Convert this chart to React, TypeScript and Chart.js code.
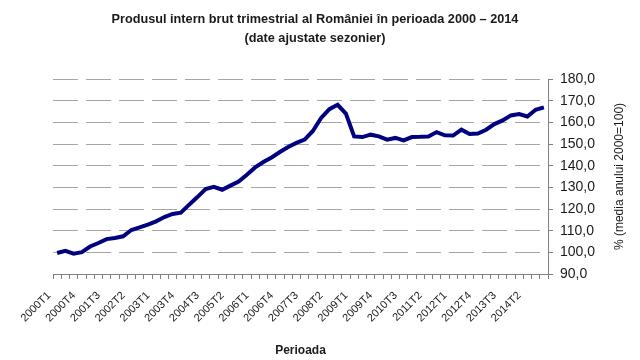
import React, { useEffect, useRef } from "react";
import { Chart, registerables } from "chart.js";

Chart.register(...registerables);

const TITLE_LINES = [
  "Produsul intern brut trimestrial al României în perioada 2000 – 2014",
  "(date ajustate sezonier)",
];
const X_TITLE = "Perioada";
const Y_TITLE = "% (media anului 2000=100)";

const QUARTERS = [
  "2000T1","2000T2","2000T3","2000T4",
  "2001T1","2001T2","2001T3","2001T4",
  "2002T1","2002T2","2002T3","2002T4",
  "2003T1","2003T2","2003T3","2003T4",
  "2004T1","2004T2","2004T3","2004T4",
  "2005T1","2005T2","2005T3","2005T4",
  "2006T1","2006T2","2006T3","2006T4",
  "2007T1","2007T2","2007T3","2007T4",
  "2008T1","2008T2","2008T3","2008T4",
  "2009T1","2009T2","2009T3","2009T4",
  "2010T1","2010T2","2010T3","2010T4",
  "2011T1","2011T2","2011T3","2011T4",
  "2012T1","2012T2","2012T3","2012T4",
  "2013T1","2013T2","2013T3","2013T4",
  "2014T1","2014T2","2014T3","2014T4",
];

const GDP_INDEX = [
  99.7, 100.7, 99.4, 100.1,
  102.7, 104.3, 106.1, 106.6,
  107.4, 110.3, 111.5, 112.8,
  114.3, 116.3, 117.7, 118.3,
  122.0, 125.5, 129.2, 130.2,
  128.9, 130.8, 132.7, 135.8,
  139.2, 141.7, 143.8, 146.3,
  148.6, 150.5, 152.0, 156.0,
  162.0, 166.1, 168.1, 164.0,
  153.5, 153.2, 154.3, 153.5,
  152.0, 152.8, 151.7, 153.2,
  153.3, 153.5, 155.5, 154.0,
  153.9, 156.6, 154.6, 154.8,
  156.6, 159.2, 160.9, 163.2,
  163.8, 162.7, 165.8, 166.9,
];

const Y_MIN = 90;
const Y_MAX = 180;
const Y_STEP = 10;
const LABEL_EVERY = 3;

const FONT = "'Liberation Sans', Arial, sans-serif";
const TEXT = "#1a1a1a";

const textPlugin = {
  id: "customTexts",
  afterDraw(chart: any) {
    const { ctx, chartArea } = chart;
    ctx.save();
    ctx.fillStyle = TEXT;
    ctx.textAlign = "center";
    ctx.textBaseline = "middle";
    ctx.font = `bold 12.7px ${FONT}`;
    ctx.fillText(TITLE_LINES[0], 315, 19);
    ctx.fillText(TITLE_LINES[1], 315, 38);
    ctx.font = `12px ${FONT}`;
    ctx.translate(620, (chartArea.top + chartArea.bottom) / 2);
    ctx.rotate(-Math.PI / 2);
    ctx.fillText(Y_TITLE, 0, 0);
    ctx.restore();
  },
};

export default function App() {
  const ref = useRef<HTMLCanvasElement>(null);
  useEffect(() => {
    const chart = new Chart(ref.current!, {
      type: "line",
      data: {
        labels: QUARTERS,
        datasets: [
          {
            data: GDP_INDEX,
            borderColor: "#000080",
            borderWidth: 4,
            pointRadius: 0,
            tension: 0,
            fill: false,
          },
        ],
      },
      options: {
        responsive: false,
        animation: false,
        layout: { padding: { left: 53, top: 79, right: 0, bottom: 0 } },
        plugins: {
          legend: { display: false },
          title: { display: false },
          tooltip: { enabled: false },
        },
        scales: {
          x: {
            type: "category",
            offset: true,
            grid: {
              display: true,
              drawOnChartArea: false,
              drawTicks: true,
              tickLength: 5,
              color: "#808080",
              offset: true,
            },
            border: { display: true, color: "#808080", width: 1 },
            ticks: {
              autoSkip: false,
              minRotation: 45,
              maxRotation: 45,
              padding: 10,
              labelOffset: -8,
              color: TEXT,
              font: { family: FONT, size: 11 },
              callback: (_v: any, i: number) => (i % LABEL_EVERY === 0 ? QUARTERS[i] : ""),
            },
            title: {
              display: true,
              text: X_TITLE,
              color: TEXT,
              font: { family: FONT, size: 12, weight: "bold" },
              padding: { top: 0, bottom: 2 },
            },
            afterFit: (s: any) => {
              s.height = 86;
            },
          },
          y: {
            position: "right",
            min: Y_MIN,
            max: Y_MAX,
            grid: {
              color: "#a6a6a6",
              lineWidth: 1,
              tickColor: "#808080",
              tickLength: 5,
              drawTicks: true,
            },
            border: { display: true, color: "#808080", width: 1, dash: [25, 8] },
            ticks: {
              stepSize: Y_STEP,
              padding: 7,
              color: TEXT,
              font: { family: FONT, size: 14 },
              callback: (v: any) => Number(v).toFixed(1).replace(".", ","),
            },
            afterFit: (s: any) => {
              s.width = 92;
            },
          },
        },
      },
      plugins: [textPlugin],
    });
    return () => chart.destroy();
  }, []);
  return (
    <div style={{ position: "fixed", left: 0, top: 0, width: 640, height: 360, background: "#fff" }}>
      <canvas ref={ref} width={640} height={360} />
    </div>
  );
}
